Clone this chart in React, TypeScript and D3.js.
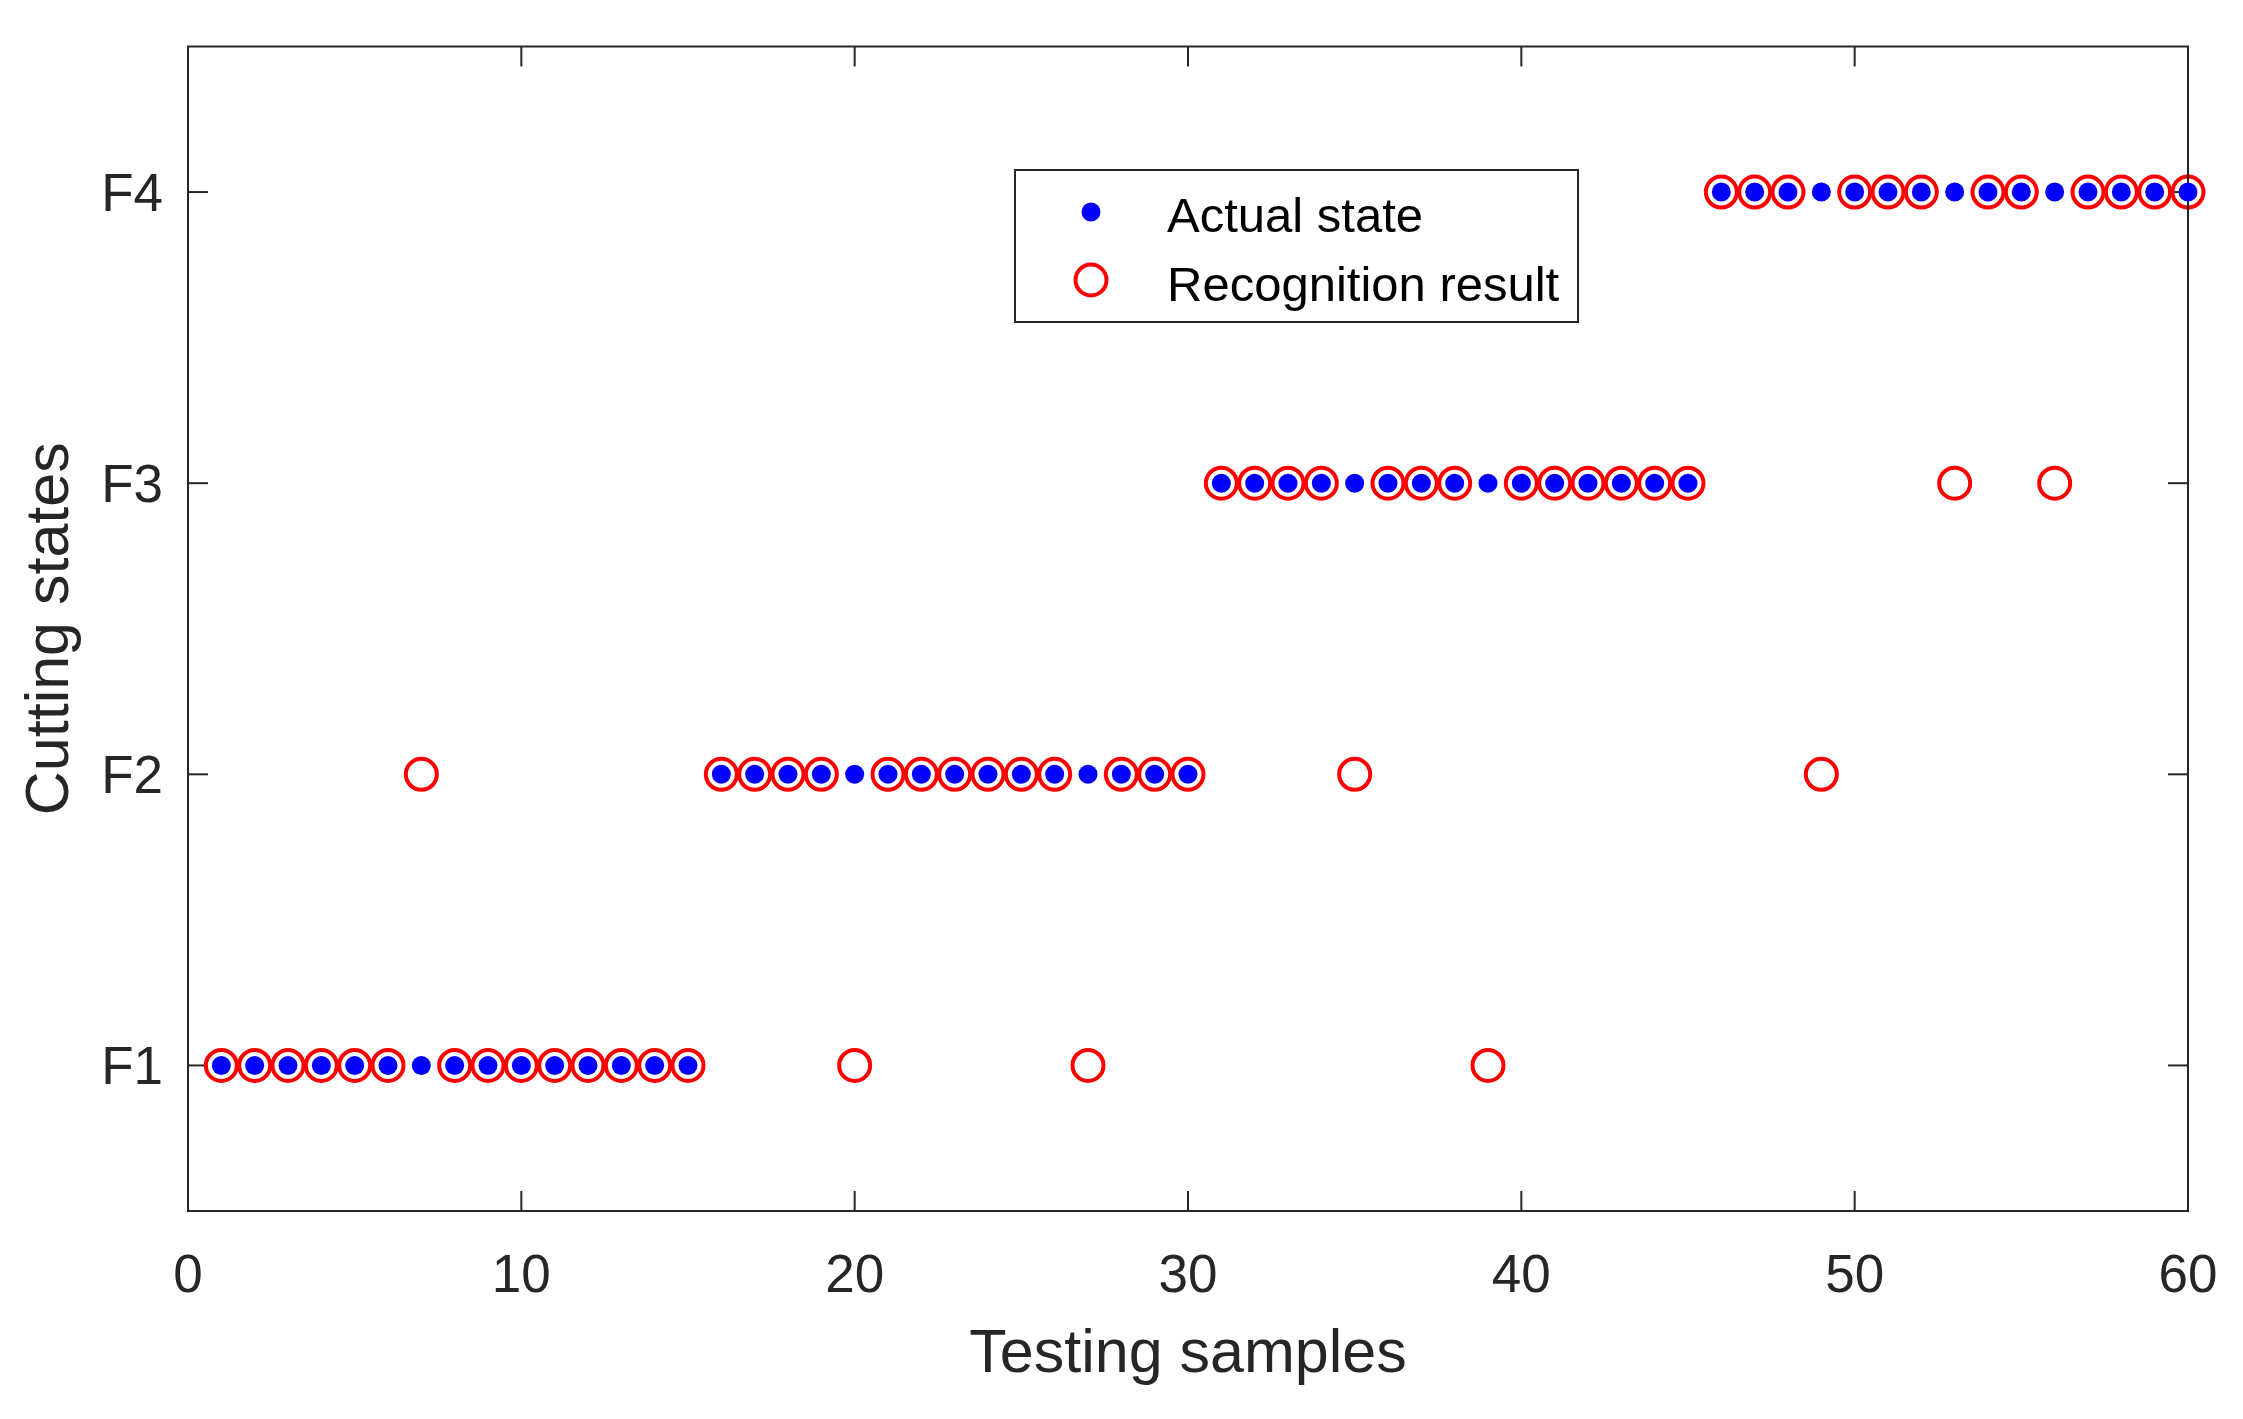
import React from "react";
import * as d3 from "d3";

// ---- data ----
const samples: number[] = d3.range(1, 61);
const actualState: number[] = [
  1, 1, 1, 1, 1, 1, 1, 1, 1, 1, 1, 1, 1, 1, 1,
  2, 2, 2, 2, 2, 2, 2, 2, 2, 2, 2, 2, 2, 2, 2,
  3, 3, 3, 3, 3, 3, 3, 3, 3, 3, 3, 3, 3, 3, 3,
  4, 4, 4, 4, 4, 4, 4, 4, 4, 4, 4, 4, 4, 4, 4,
];
const recognitionResult: number[] = [
  1, 1, 1, 1, 1, 1, 2, 1, 1, 1, 1, 1, 1, 1, 1,
  2, 2, 2, 2, 1, 2, 2, 2, 2, 2, 2, 1, 2, 2, 2,
  3, 3, 3, 3, 2, 3, 3, 3, 1, 3, 3, 3, 3, 3, 3,
  4, 4, 4, 2, 4, 4, 4, 3, 4, 4, 3, 4, 4, 4, 4,
];
const xTicks: number[] = [0, 10, 20, 30, 40, 50, 60];
const yTickValues: number[] = [1, 2, 3, 4];
const yTickLabels: string[] = ["F1", "F2", "F3", "F4"];
const legendLabels: string[] = ["Actual state", "Recognition result"];
const xLabel = "Testing samples";
const yLabel = "Cutting states";

const W = 2243;
const H = 1419;
const FONT = "'Liberation Sans', Arial, Helvetica, sans-serif";
const AXIS = "#262626";

export default function App() {
  const left = 188;
  const right = 2188;
  const top = 46.5;
  const bottom = 1211;
  const x = d3.scaleLinear().domain([0, 60]).range([left, right]);
  const y = d3.scaleLinear().domain([0.5, 4.5]).range([bottom, top]);
  const tickLen = 20;
  const tickFont = 53;

  const actual = samples.map((s, i) => ({ s, v: actualState[i] }));
  const recog = samples.map((s, i) => ({ s, v: recognitionResult[i] }));

  const lg = { x: 1015, y: 170, w: 563, h: 152 };

  return (
    <svg
      width={W}
      height={H}
      viewBox={`0 0 ${W} ${H}`}
      style={{ position: "absolute", left: 0, top: 0, background: "#fff" }}
      fontFamily={FONT}
    >
      <rect x={0} y={0} width={W} height={H} fill="#fff" />

      {/* ticks (inward, mirrored) */}
      <g stroke={AXIS} strokeWidth={2}>
        {xTicks.map((t) => (
          <g key={"xt" + t}>
            <line x1={x(t)} x2={x(t)} y1={bottom} y2={bottom - tickLen} />
            <line x1={x(t)} x2={x(t)} y1={top} y2={top + tickLen} />
          </g>
        ))}
        {yTickValues.map((t) => (
          <g key={"yt" + t}>
            <line x1={left} x2={left + tickLen} y1={y(t)} y2={y(t)} />
            <line x1={right} x2={right - tickLen} y1={y(t)} y2={y(t)} />
          </g>
        ))}
      </g>

      {/* recognition result circles */}
      <g fill="none" stroke="#ff0000" strokeWidth={4}>
        {recog.map((d) => (
          <circle key={"r" + d.s} cx={x(d.s)} cy={y(d.v)} r={15.5} />
        ))}
      </g>

      {/* axes box */}
      <rect
        x={left}
        y={top}
        width={right - left}
        height={bottom - top}
        fill="none"
        stroke={AXIS}
        strokeWidth={2}
      />

      {/* actual state dots */}
      <g fill="#0000ff">
        {actual.map((d) => (
          <circle key={"a" + d.s} cx={x(d.s)} cy={y(d.v)} r={9.5} />
        ))}
      </g>

      {/* tick labels */}
      <g fill={AXIS} fontSize={tickFont}>
        {xTicks.map((t) => (
          <text key={"xl" + t} x={x(t)} y={1292} textAnchor="middle">
            {t}
          </text>
        ))}
        {yTickValues.map((t, i) => (
          <text key={"yl" + t} x={163} y={y(t) + 19} textAnchor="end">
            {yTickLabels[i]}
          </text>
        ))}
      </g>

      {/* axis labels */}
      <text
        x={(left + right) / 2}
        y={1372}
        textAnchor="middle"
        fontSize={61}
        fill={AXIS}
      >
        {xLabel}
      </text>
      <text
        transform={`translate(68, ${(top + bottom) / 2}) rotate(-90)`}
        textAnchor="middle"
        fontSize={61}
        fill={AXIS}
      >
        {yLabel}
      </text>

      {/* legend */}
      <rect
        x={lg.x}
        y={lg.y}
        width={lg.w}
        height={lg.h}
        fill="#fff"
        stroke={AXIS}
        strokeWidth={2}
      />
      <circle cx={1091} cy={212} r={9.5} fill="#0000ff" />
      <circle cx={1091} cy={280} r={15.5} fill="none" stroke="#ff0000" strokeWidth={4} />
      <g fontSize={49} fill="#000">
        <text x={1167} y={232}>
          {legendLabels[0]}
        </text>
        <text x={1167} y={301}>
          {legendLabels[1]}
        </text>
      </g>
    </svg>
  );
}
